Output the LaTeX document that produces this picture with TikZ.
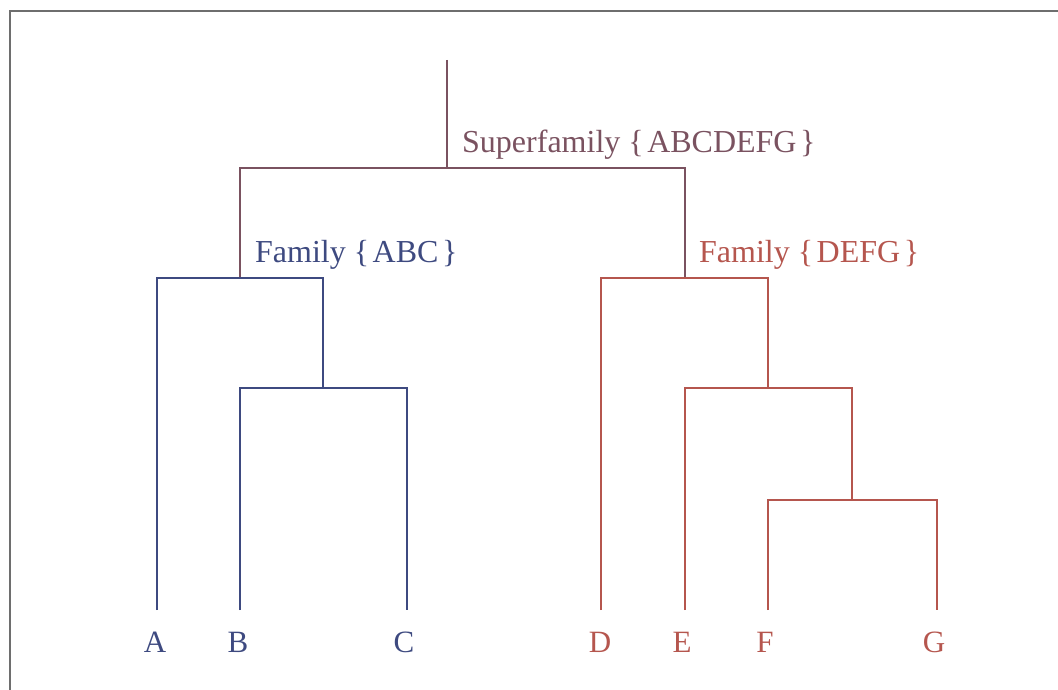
\documentclass[tikz,border=0pt]{standalone}
\usepackage{fontspec}
\setmainfont{Liberation Serif}
\definecolor{abcblue}{RGB}{62,74,128}
\definecolor{defgred}{RGB}{181,86,78}
\definecolor{supmauve}{RGB}{122,82,96}
\definecolor{framegray}{RGB}{110,110,110}
\newcommand{\setof}[1]{\{\kern3.5pt#1\kern3.5pt\}}
\begin{document}
\begin{tikzpicture}[x=1pt,y=-1pt,
  branch/.style={line width=1.3pt},
  leaflabel/.style={font=\fontsize{31}{36}\selectfont, inner sep=0pt},
  clade/.style={font=\fontsize{32}{38}\selectfont, inner sep=0pt, anchor=west}]
\useasboundingbox (0,0) rectangle (1058,690);
% frame
\draw[framegray, line width=1.5pt] (10,690) -- (10,11) -- (1058,11);

% junction points
\coordinate (root) at (447,60);
\coordinate (sup) at (447,168);
\coordinate (fabc) at (240,278);
\coordinate (fbc) at (323,388);
\coordinate (fdefg) at (685,278);
\coordinate (fefg) at (768,388);
\coordinate (ffg) at (852,500);

% leaves
\coordinate (la) at (157,610);
\coordinate (lb) at (240,610);
\coordinate (lc) at (407,610);
\coordinate (ld) at (601,610);
\coordinate (le) at (685,610);
\coordinate (lf) at (768,610);
\coordinate (lg) at (937,610);

% superfamily
\draw[branch, supmauve] (root) -- (sup);
\draw[branch, supmauve] (fabc) |- (sup) -| (fdefg);

% family ABC
\draw[branch, abcblue] (la) |- (fabc) -| (fbc);
\draw[branch, abcblue] (lb) |- (fbc) -| (lc);

% family DEFG
\draw[branch, defgred] (ld) |- (fdefg) -| (fefg);
\draw[branch, defgred] (le) |- (fefg) -| (ffg);
\draw[branch, defgred] (lf) |- (ffg) -| (lg);

% labels
\node[clade, text=supmauve] (tsup) at (462,145) {Superfamily \setof{ABCDEFG}};
\node[clade, text=abcblue] (tabc) at (255,255) {Family \setof{ABC}};
\node[clade, text=defgred] (tdefg) at (699,255) {Family \setof{DEFG}};

\node[leaflabel, text=abcblue] (na) at (155,642) {A};
\node[leaflabel, text=abcblue] (nb) at (238,642) {B};
\node[leaflabel, text=abcblue] (nc) at (404,642) {C};
\node[leaflabel, text=defgred] (nd) at (600,642) {D};
\node[leaflabel, text=defgred] (ne) at (682,642) {E};
\node[leaflabel, text=defgred] (nf) at (765,642) {F};
\node[leaflabel, text=defgred] (ng) at (934,642) {G};
\end{tikzpicture}
\end{document}
